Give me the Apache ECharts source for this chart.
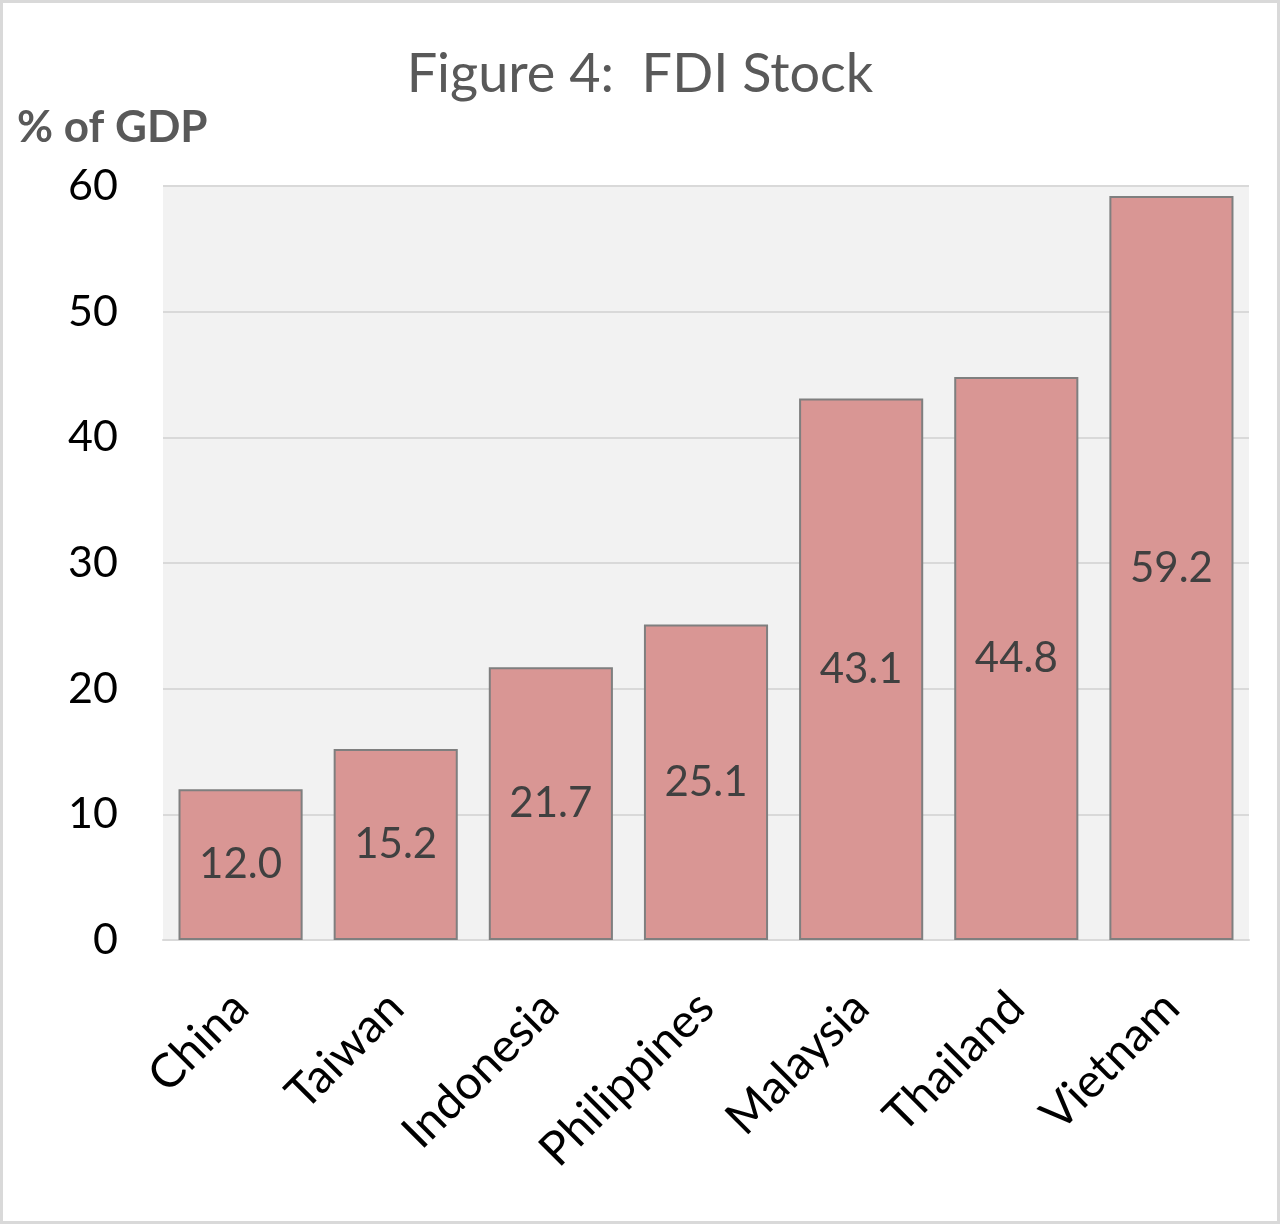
<!DOCTYPE html>
<html><head><meta charset="utf-8">
<script src="https://cdn.jsdelivr.net/npm/echarts@6/dist/echarts.min.js"></script>
<style>html,body{margin:0;padding:0;background:#fff}#c{width:1280px;height:1224px;box-sizing:border-box;border:3px solid #d9d9d9}</style>
</head><body><div id="c"></div>
<script>
const categories = ['China','Taiwan','Indonesia','Philippines','Malaysia','Thailand','Vietnam'];
const values = [12.0, 15.2, 21.7, 25.1, 43.1, 44.8, 59.2];
const yTicks = [0, 10, 20, 30, 40, 50, 60];
const FONT = 'Lato, "Open Sans", sans-serif';
const chart = echarts.init(document.getElementById('c'), null, {renderer:'canvas'});
chart.setOption({
  animation:false,
  backgroundColor:'#fff',
  title:[
    {text:'Figure 4:  FDI Stock', left:'center', top:40, textStyle:{fontFamily:FONT, fontSize:54, fontWeight:'normal', color:'#595959'}},
    {text:'% of GDP', left:9, top:98, textStyle:{fontFamily:FONT, fontSize:44, fontWeight:'bold', color:'#595959'}}
  ],
  grid:{left:160, right:28, top:183, bottom:281, backgroundColor:'#f2f2f2', show:true, borderWidth:0},
  xAxis:{type:'category', data:categories,
    axisLine:{lineStyle:{color:'#d9d9d9', width:2}}, axisTick:{show:false},
    axisLabel:{rotate:45, fontFamily:FONT, fontSize:47, color:'#000', margin:60, interval:0}},
  yAxis:{type:'value', min:yTicks[0], max:yTicks[yTicks.length-1], interval:10,
    axisLine:{show:false}, axisTick:{show:false},
    splitLine:{lineStyle:{color:'#d9d9d9', width:2}},
    axisLabel:{fontFamily:FONT, fontSize:43, color:'#000', margin:45}},
  series:[{type:'bar', data:values, barCategoryGap:'20%',
    itemStyle:{color:'#d99694', borderColor:'#7f7f7f', borderWidth:2},
    label:{show:true, position:'inside', formatter:p=>p.value.toFixed(1), fontFamily:FONT, fontSize:42, color:'#404040'}}]
});
</script></body></html>
